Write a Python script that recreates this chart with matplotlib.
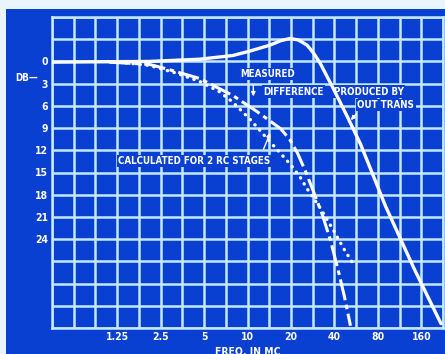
import numpy as np
import matplotlib
matplotlib.use("Agg")
import matplotlib.pyplot as plt
from matplotlib.patches import Rectangle

# frequency axis (Mc) and labels
x_ticks = [1.25 * 2 ** (k / 2) for k in range(-3, 16)]
x_labels = ["", "", "", "1.25", "", "2.5", "", "5", "", "10", "", "20", "", "40", "", "80", "", "160", ""]
y_ticks = list(range(-6, 37, 3))
y_labels = ["", "", "0", "3", "6", "9", "12", "15", "18", "21", "24", "", "", "", ""]

# measured response
meas_f = [1.10, 2.09, 2.74, 4.66, 7.91, 11.7, 17.0, 19.7, 22.1, 25.2, 28.7, 33.0, 37.5, 42.5, 47.0, 51.7]
meas_db = [0.1, 0.4, 1.0, 2.3, 4.6, 6.8, 9.1, 10.6, 12.3, 14.8, 17.6, 20.7, 24.1, 28.2, 31.8, 35.7]

# calculated for 2 RC stages
calc_f = [1.29, 2.09, 3.24, 4.66, 6.4, 7.91, 10.4, 14.4, 17.1, 20.0, 23.1, 25.9, 31.9, 39.4, 46.8, 53.9]
calc_db = [0.1, 0.55, 1.6, 2.7, 4.1, 5.5, 7.8, 10.9, 12.5, 14.0, 15.6, 17.2, 19.8, 22.8, 25.4, 27.3]

# difference produced by output transformer
diff_f = [0.44, 2.09, 4.66, 7.91, 10.4, 14.3, 17.0, 19.7, 22.5, 25.9, 29.0, 32.0, 39.4, 49.3, 60.8, 90.7, 142, 219]
diff_db = [0.1, 0.0, -0.3, -0.8, -1.4, -2.2, -2.8, -3.1, -2.9, -2.2, -1.0, 0.3, 3.7, 7.5, 11.2, 19.6, 27.9, 35.4]

blue = "#0a40d2"
grid_c = "#c4e8ff"
ink = "white"
font = ["Liberation Sans Narrow", "DejaVu Sans"]

W, H = 445, 354
fig = plt.figure(figsize=(W / 100, H / 100), dpi=100, facecolor="#eaf5fb")
fig.patches.append(Rectangle((6 / W, 0), 1, 1 - 9 / H, transform=fig.transFigure,
                             facecolor=blue, edgecolor="none", zorder=-5))
ax = fig.add_axes([52 / W, (H - 328) / H, (443 - 52) / W, (328 - 17) / H])
ax.set_facecolor(blue)

ax.set_xscale("log", base=2)
ax.set_xlim(x_ticks[0], x_ticks[-1])
ax.set_ylim(36, -6)
ax.set_xticks(x_ticks)
ax.set_xticklabels(x_labels)
ax.xaxis.set_minor_locator(matplotlib.ticker.NullLocator())
ax.set_yticks(y_ticks)
ax.set_yticklabels(y_labels)
ax.tick_params(length=0, colors=ink, labelsize=7.5, pad=3)
for lab in ax.get_xticklabels() + ax.get_yticklabels():
    lab.set_fontweight("bold")
    lab.set_family(font)
    lab.set_fontstretch("condensed")
ax.grid(True, color=grid_c, lw=1.8, zorder=1)
ax.set_axisbelow(True)
for s in ax.spines.values():
    s.set_color(grid_c)
    s.set_linewidth(1.8)

ax.plot(diff_f, diff_db, color=ink, lw=2.4, zorder=4, solid_capstyle="round",
        solid_joinstyle="round")
ax.plot(meas_f, meas_db, color=ink, lw=2.2, zorder=4, dashes=(7, 1.5, 1.5, 1.5))
ax.plot(calc_f, calc_db, color=ink, lw=2.4, zorder=4, linestyle=(0, (0.1, 2.0)),
        dash_capstyle="round")

box = dict(facecolor=blue, edgecolor="none", pad=1)
tkw = dict(color=ink, fontsize=7, fontweight="bold", family=font, fontstretch="condensed",
           va="center", ha="left", zorder=3, bbox=box)
ax.text(8.9, 1.7, "MEASURED", **tkw)
ax.text(12.9, 4.1, "DIFFERENCE", **tkw)
ax.text(39.5, 4.1, "PRODUCED BY", **tkw)
ax.text(57.7, 5.9, "OUT TRANS", **tkw)
ax.text(1.27, 13.45, "CALCULATED FOR 2 RC STAGES", **tkw)

akw = dict(arrowstyle="-|>", color=ink, lw=1, mutation_scale=6)
ax.annotate("", xy=(10.97, 5.1), xytext=(10.97, 2.8), arrowprops=akw, zorder=5)
ax.annotate("", xy=(50.4, 8.2), xytext=(58.7, 6.8), arrowprops=akw, zorder=5)
ax.annotate("", xy=(14.6, 9.3), xytext=(12.7, 12.2), arrowprops=akw, zorder=5)

fig.text(15 / W, 1 - 78 / H, "DB\u2014", color=ink, fontsize=7, fontweight="bold",
         family=font, fontstretch="condensed", va="center", ha="left")
fig.text(248 / W, 1 - 346 / H, "FREQ. IN MC", color=ink, fontsize=7.5,
         fontweight="bold", family=font, fontstretch="condensed", va="top", ha="center")

fig.savefig("out.png", dpi=100, facecolor=fig.get_facecolor())
